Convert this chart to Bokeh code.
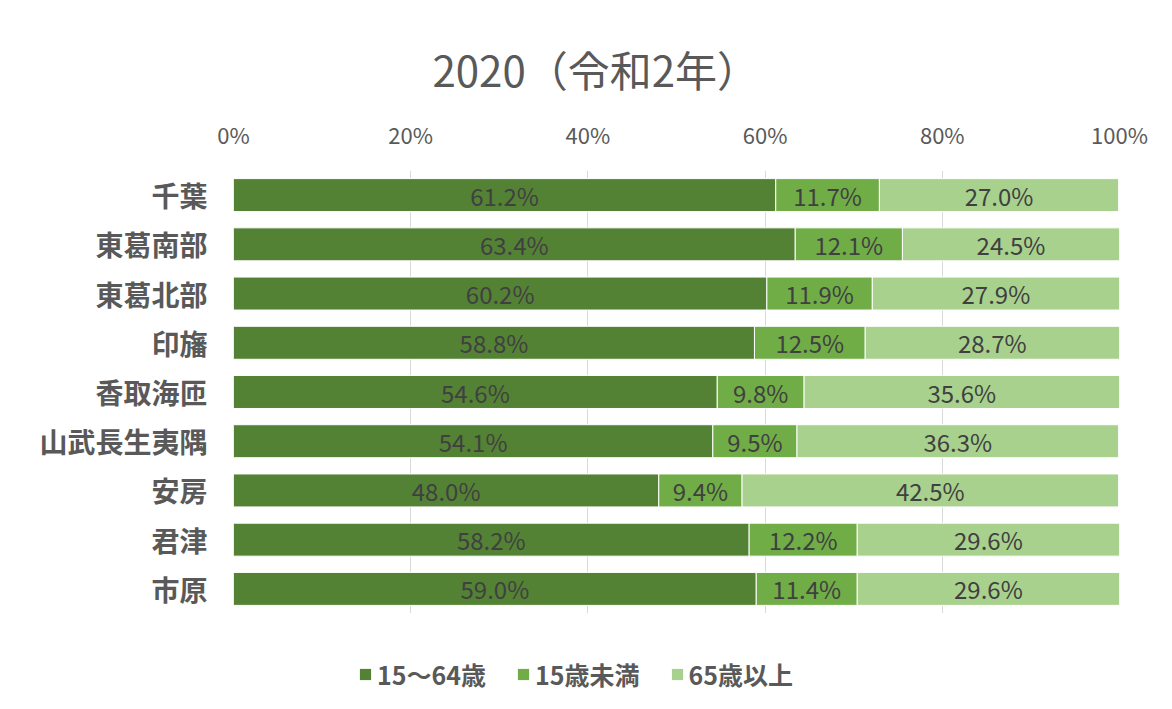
from bokeh.plotting import figure
from bokeh.models import (ColumnDataSource, Legend, LegendItem, LabelSet,
                          FactorRange, Range1d, FixedTicker, PrintfTickFormatter)
from bokeh.core.properties import value
from bokeh.layouts import column
from bokeh.embed import file_html
from bokeh.resources import INLINE

# ---- data ----
regions = ["千葉", "東葛南部", "東葛北部", "印旛", "香取海匝", "山武長生夷隅", "安房", "君津", "市原"]
working = [61.2, 63.4, 60.2, 58.8, 54.6, 54.1, 48.0, 58.2, 59.0]
children = [11.7, 12.1, 11.9, 12.5, 9.8, 9.5, 9.4, 12.2, 11.4]
elderly = [27.0, 24.5, 27.9, 28.7, 35.6, 36.3, 42.5, 29.6, 29.6]
series_names = ["15～64歳", "15歳未満", "65歳以上"]
colors = ["#548235", "#70AD47", "#A9D18E"]
x_ticks = [0, 20, 40, 60, 80, 100]
title_text = "2020（令和2年）"

FONT = "Noto Sans CJK JP"

src = ColumnDataSource(dict(region=regions, w=working, c=children, e=elderly))

p = figure(
    width=1172, height=613,
    y_range=FactorRange(factors=list(reversed(regions))),
    x_range=Range1d(0, 100),
    x_axis_location="above",
    output_backend="svg", toolbar_location=None,
    min_border_left=233, min_border_right=53,
    min_border_top=170, min_border_bottom=0,
)

renderers = p.hbar_stack(["w", "c", "e"], y="region", height=0.67, color=colors,
                         line_color="white", line_width=1, source=src)

# labels
lx, ly, lt = [], [], []
for r, a, b, c in zip(regions, working, children, elderly):
    for start, v in ((0, a), (a, b), (a + b, c)):
        lx.append(start + v / 2)
        ly.append(r)
        lt.append(f"{v:.1f}%")
lsrc = ColumnDataSource(dict(x=lx, y=ly, t=lt))
labels = LabelSet(x="x", y="y", text="t", source=lsrc, text_align="center",
                  text_baseline="middle", text_font=value(FONT), text_font_size=value("24px"),
                  text_color="#404040")
p.add_layout(labels)

# title
p.title.text = title_text
p.title.align = "left"
p.title.offset = 199
p.title.text_font = FONT
p.title.text_font_size = "42px"
p.title.text_font_style = "normal"
p.title.text_color = "#595959"
p.title.standoff = 32

# axes
xa = p.xaxis[0]
xa.ticker = FixedTicker(ticks=x_ticks)
xa.formatter = PrintfTickFormatter(format="%d%%")
xa.axis_line_color = None
xa.major_tick_line_color = None
xa.minor_tick_line_color = None
xa.major_label_standoff = 15
xa.major_label_text_font = FONT
xa.major_label_text_font_size = "22px"
xa.major_label_text_color = "#595959"

ya = p.yaxis[0]
ya.axis_line_color = None
ya.major_tick_line_color = None
ya.minor_tick_line_color = None
ya.major_label_standoff = 20
ya.major_label_text_font = FONT
ya.major_label_text_font_size = "28px"
ya.major_label_text_font_style = "bold"
ya.major_label_text_color = "#595959"

p.xgrid.grid_line_color = "#d9d9d9"
p.xgrid.grid_line_width = 1
p.ygrid.grid_line_color = None
p.outline_line_color = None

# ---- legend strip ----
q = figure(width=1172, height=96, x_range=Range1d(0, 1), y_range=Range1d(0, 1),
           x_axis_type=None, y_axis_type=None, output_backend="svg",
           toolbar_location=None, min_border=0)
q.outline_line_color = None
q.xgrid.visible = False
q.ygrid.visible = False
leg_src = ColumnDataSource(dict(y=[-100], right=[0]))
leg_r = [q.hbar(y="y", left=0, right="right", height=1, fill_color=c, line_color=None, source=leg_src)
         for c in colors]
legend = Legend(items=[LegendItem(label=n, renderers=[r]) for n, r in zip(series_names, leg_r)],
                orientation="horizontal", location=(125, 17))
legend.label_text_font = FONT
legend.label_text_font_size = "25px"
legend.label_text_font_style = "bold"
legend.label_text_color = "#595959"
legend.glyph_width = 14
legend.glyph_height = 14
legend.spacing = 30
legend.label_standoff = 5
legend.border_line_color = None
legend.background_fill_alpha = 0
legend.margin = 0
legend.padding = 10
q.add_layout(legend)

open("out.html", "w").write(file_html(column(p, q, spacing=0), INLINE))
